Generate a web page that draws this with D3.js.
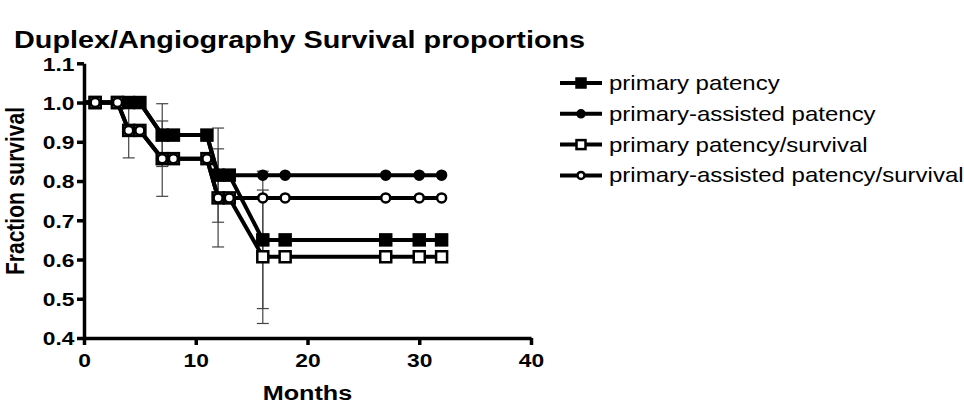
<!DOCTYPE html>
<html>
<head>
<meta charset="utf-8">
<script src="https://cdn.jsdelivr.net/npm/d3@7"></script>
<style>
  html, body { margin: 0; padding: 0; background: #fff; }
  svg { display: block; font-family: Arial, "Liberation Sans", sans-serif; }
</style>
</head>
<body>
<svg id="chart" width="964" height="405"></svg>
<script>
// months where each curve has a point (0 = start of curve, no symbol)
const months = [0, 1, 3, 4, 5, 7, 8, 11, 12, 13, 16, 18, 27, 30, 32];

const primaryPatency          = [1, 1, 1, 1, 1, 0.917, 0.917, 0.917, 0.815, 0.815, 0.65, 0.65, 0.65, 0.65, 0.65];
const primaryAssisted         = [1, 1, 1, 1, 1, 0.917, 0.917, 0.917, 0.815, 0.815, 0.815, 0.815, 0.815, 0.815, 0.815];
const primarySurvival         = [1, 1, 1, 0.929, 0.929, 0.857, 0.857, 0.857, 0.757, 0.757, 0.607, 0.607, 0.607, 0.607, 0.607];
const primaryAssistedSurvival = [1, 1, 1, 0.929, 0.929, 0.857, 0.857, 0.857, 0.757, 0.757, 0.757, 0.757, 0.757, 0.757, 0.757];

// standard errors shown as bars: [month, value, se]
const primaryPatencyErr  = [[7, 0.917, 0.08], [12, 0.815, 0.12], [16, 0.65, 0.175]];
const primarySurvivalErr = [[4, 0.929, 0.07], [7, 0.857, 0.096], [12, 0.757, 0.125], [16, 0.607, 0.17]];

const seriesNames = ['primary patency', 'primary-assisted patency', 'primary patency/survival', 'primary-assisted patency/survival'];
const seriesSymbols = ['filledSquare', 'filledCircle', 'openSquare', 'openCircle'];

const xTicks = [0, 10, 20, 30, 40];
const yTicks = [0.4, 0.5, 0.6, 0.7, 0.8, 0.9, 1.0, 1.1];

const SX = 1.2; // the original font is drawn wider than normal Arial

const svg = d3.select('#chart');

const x = d3.scaleLinear().domain([0, 40]).range([84, 531]);
const y = d3.scaleLinear().domain([0.4, 1.1]).range([338, 63.3]);

// title
svg.append('text')
    .attr('transform', `translate(14,48) scale(${SX},1)`)
    .style('font-size', '24px')
    .style('font-weight', 'bold')
    .text('Duplex/Angiography Survival proportions');

// axes
const yAxis = svg.append('g')
    .attr('transform', `translate(${x(0)},0)`)
    .call(d3.axisLeft(y).tickValues(yTicks).tickFormat(d3.format('.1f')).tickSize(7).tickSizeOuter(0));

const xAxis = svg.append('g')
    .attr('transform', `translate(0,${y(0.4)})`)
    .call(d3.axisBottom(x).tickValues(xTicks).tickSize(7).tickSizeOuter(0));

[yAxis, xAxis].forEach(ax => {
    ax.select('.domain').attr('stroke', '#000').attr('stroke-width', 3.5);
    ax.selectAll('.tick line').attr('stroke', '#000').attr('stroke-width', 3.5);
    ax.selectAll('.tick text')
        .attr('fill', '#000')
        .style('font-size', '19px')
        .style('font-weight', 'bold')
        .style('font-family', 'Arial, "Liberation Sans", sans-serif');
});

yAxis.selectAll('.tick text')
    .attr('x', -8)
    .attr('dy', '0.36em')
    .attr('transform', `scale(${SX},1)`);

xAxis.selectAll('.tick text')
    .attr('y', 29)
    .attr('dy', 0)
    .attr('transform', `scale(${SX},1)`);

// axis titles
svg.append('text')
    .attr('transform', `translate(24,191) scale(${SX},1) rotate(-90)`)
    .attr('text-anchor', 'middle')
    .style('font-size', '21px')
    .style('font-weight', 'bold')
    .text('Fraction survival');

svg.append('text')
    .attr('transform', `translate(${x(20)},400) scale(${SX},1)`)
    .attr('text-anchor', 'middle')
    .style('font-size', '21px')
    .style('font-weight', 'bold')
    .text('Months');

// error bars
const errG = svg.append('g')
    .attr('stroke', '#444')
    .attr('stroke-width', 1.2);

[...primaryPatencyErr, ...primarySurvivalErr].forEach(([m, v, se]) => {
    const cx = x(m);
    errG.append('line').attr('x1', cx).attr('x2', cx).attr('y1', y(v + se)).attr('y2', y(v - se));
    errG.append('line').attr('x1', cx - 6).attr('x2', cx + 6).attr('y1', y(v + se)).attr('y2', y(v + se));
    errG.append('line').attr('x1', cx - 6).attr('x2', cx + 6).attr('y1', y(v - se)).attr('y2', y(v - se));
});

const allSeries = [primaryPatency, primaryAssisted, primarySurvival, primaryAssistedSurvival]
    .map(vals => months.map((m, i) => [m, vals[i]]));

const line = d3.line()
    .x(d => x(d[0]))
    .y(d => y(d[1]));

svg.append('g')
    .selectAll('path')
    .data(allSeries)
    .join('path')
    .attr('fill', 'none')
    .attr('stroke', '#000')
    .attr('stroke-width', 4)
    .attr('stroke-linejoin', 'round')
    .attr('d', line);

function drawSymbol(g, kind, cx, cy, size) {
    if (kind === 'filledSquare' || kind === 'openSquare') {
        g.append('rect')
            .attr('x', cx - size / 2).attr('y', cy - size / 2)
            .attr('width', size).attr('height', size)
            .attr('fill', kind === 'filledSquare' ? '#000' : '#fff')
            .attr('stroke', '#000').attr('stroke-width', 2.5);
    } else {
        g.append('circle')
            .attr('cx', cx).attr('cy', cy).attr('r', size / 2 - 1)
            .attr('fill', kind === 'filledCircle' ? '#000' : '#fff')
            .attr('stroke', '#000').attr('stroke-width', 2.5);
    }
}

const symG = svg.append('g');
allSeries.forEach((pts, s) => {
    pts.slice(1).forEach(d => drawSymbol(symG, seriesSymbols[s], x(d[0]), y(d[1]), 11));
});

// legend
const legend = svg.append('g');
seriesNames.forEach((name, i) => {
    const ly = 83 + i * 30.8;
    legend.append('line')
        .attr('x1', 560).attr('x2', 602)
        .attr('y1', ly).attr('y2', ly)
        .attr('stroke', '#000').attr('stroke-width', 4);
    drawSymbol(legend, seriesSymbols[i], 581, ly, 9);
    legend.append('text')
        .attr('transform', `translate(609,${ly + 7}) scale(${SX},1)`)
        .style('font-size', '20px')
        .text(name);
});
</script>
</body>
</html>
